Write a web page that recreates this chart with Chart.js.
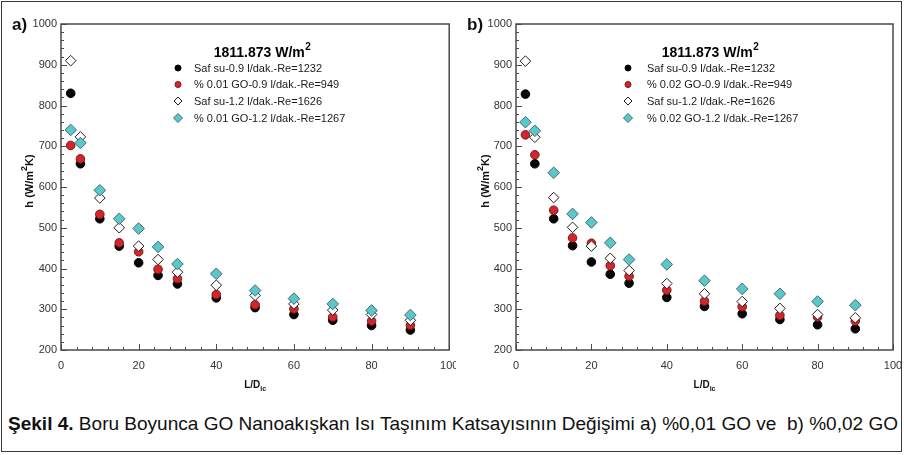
<!DOCTYPE html>
<html><head><meta charset="utf-8">
<script src="https://cdn.jsdelivr.net/npm/chart.js@4.4.1/dist/chart.umd.min.js"></script>
<style>
html,body{margin:0;padding:0;background:#fff;}
body{width:904px;height:455px;position:relative;overflow:hidden;font-family:'Liberation Sans',Arial,sans-serif;}
#frame{position:absolute;left:1px;top:1px;width:901px;height:451px;border:1.5px solid #3a3a3a;box-sizing:border-box;}
canvas{position:absolute;top:0;}
#cA{left:0}
#cB{left:456px}
#caption{position:absolute;left:8px;top:414px;font-size:18.5px;line-height:20px;white-space:nowrap;transform-origin:0 0;color:#111;}
#caption b{font-weight:bold;}
</style></head>
<body>
<div id="frame"></div>
<canvas id="cA" width="456" height="400"></canvas>
<canvas id="cB" width="448" height="400"></canvas>
<div id="caption"><b>Şekil 4.</b> Boru Boyunca GO Nanoakışkan Isı Taşınım Katsayısının Değişimi a) %0,01 GO ve&nbsp; b) %0,02 GO</div>
<script>
// ---- data ----
const xPositions = [2.5, 5, 10, 15, 20, 25, 30, 40, 50, 60, 70, 80, 90];

const a_safSu09 = [830, 657, 522, 455, 414, 383, 362, 328, 304, 287, 273, 260, 249];
const a_go09    = [702, 669, 533, 463, 441, 398, 375, 336, 311, 301, 281, 271, 261];
const a_safSu12 = [910, 723, 573, 500, 455, 422, 391, 359, 334, 313, 298, 287, 273];
const a_go12    = [740, 708, 592, 522, 498, 453, 411, 387, 346, 326, 313, 297, 286];

const b_safSu09 = [828, 657, 522, 456, 416, 386, 364, 329, 307, 289, 275, 262, 252];
const b_go09    = [728, 679, 543, 475, 462, 407, 381, 347, 320, 306, 285, 281, 271];
const b_safSu12 = [909, 722, 574, 501, 455, 425, 395, 363, 338, 319, 302, 287, 279];
const b_go12    = [759, 738, 635, 534, 513, 463, 422, 410, 370, 350, 338, 319, 310];

const labelsA = ['Saf su-0.9 l/dak.-Re=1232', '% 0.01 GO-0.9 l/dak.-Re=949', 'Saf su-1.2 l/dak.-Re=1626', '% 0.01 GO-1.2 l/dak.-Re=1267'];
const labelsB = ['Saf su-0.9 l/dak.-Re=1232', '% 0.02 GO-0.9 l/dak.-Re=949', 'Saf su-1.2 l/dak.-Re=1626', '% 0.02 GO-1.2 l/dak.-Re=1267'];
const legendTitle = '1811.873 W/m';
const legendTitleSup = '2';
const yTitle = ['h (W/m', '2', 'K)'];
const xTitle = ['L/D', 'ic'];
const panelLetters = ['a)', 'b)'];

const yMin = 200, yMax = 1000, yStep = 100, yMinor = 20;
const xMin = 0, xMax = 100, xStep = 20, xMinor = 4;

// ---- styles ----
const styles = [
  {shape: 'circle', r: 4.3, lr: 3, bg: '#050505', bd: '#000000', order: 4},
  {shape: 'circle', r: 4.3, lr: 3, bg: '#d3252b', bd: '#7d1518', order: 3},
  {shape: 'diamond', r: 5.3, lr: 4, bg: '#ffffff', bd: '#1e1e1e', order: 2},
  {shape: 'diamond', r: 5.8, lr: 4.5, bg: '#5dc6c9', bd: '#3d6e74', order: 1},
];

function drawMarker(ctx, st, x, y, r) {
  ctx.beginPath();
  if (st.shape === 'circle') {
    ctx.arc(x, y, r, 0, Math.PI * 2);
  } else {
    ctx.moveTo(x, y - r); ctx.lineTo(x + r, y); ctx.lineTo(x, y + r); ctx.lineTo(x - r, y); ctx.closePath();
  }
  ctx.fillStyle = st.bg; ctx.fill();
  ctx.lineWidth = 1; ctx.strokeStyle = st.bd; ctx.stroke();
}

const FONT = "'Liberation Sans', Arial, sans-serif";

const decorPlugin = {
  id: 'decor',
  afterDraw(chart, args, o) {
    const {ctx, chartArea: ca, scales: {x, y}} = chart;
    ctx.save();
    // frame
    ctx.strokeStyle = '#4a4a4a'; ctx.lineWidth = 1.5;
    ctx.strokeRect(ca.left, ca.top, ca.right - ca.left, ca.bottom - ca.top);
    // inner ticks
    ctx.lineWidth = 1; ctx.strokeStyle = '#4a4a4a';
    ctx.beginPath();
    for (let v = yMin; v <= yMax; v += yMinor) {
      const p = Math.round(y.getPixelForValue(v)) + 0.5;
      const len = (v % yStep === 0) ? 6 : 3;
      ctx.moveTo(ca.left, p); ctx.lineTo(ca.left + len, p);
    }
    for (let v = xMin; v <= xMax; v += xMinor) {
      const p = Math.round(x.getPixelForValue(v)) + 0.5;
      const len = (v % xStep === 0) ? 6 : 3;
      ctx.moveTo(p, ca.bottom); ctx.lineTo(p, ca.bottom - len);
    }
    ctx.stroke();
    // panel letter
    ctx.fillStyle = '#111';
    ctx.font = 'bold 17px ' + FONT;
    ctx.textBaseline = 'alphabetic'; ctx.textAlign = 'left';
    ctx.fillText(o.letter, o.letterX, 30);
    // y title
    ctx.save();
    ctx.translate(o.yTitleX, 181);
    ctx.rotate(-Math.PI / 2);
    const fBig = 'bold 11px ' + FONT, fSup = 'bold 9px ' + FONT;
    ctx.font = fBig; const w1 = ctx.measureText(yTitle[0]).width; const w3 = ctx.measureText(yTitle[2]).width;
    ctx.font = fSup; const w2 = ctx.measureText(yTitle[1]).width;
    let sx = -(w1 + w2 + w3) / 2;
    ctx.font = fBig; ctx.fillText(yTitle[0], sx, 4); sx += w1;
    ctx.font = fSup; ctx.fillText(yTitle[1], sx, -2); sx += w2;
    ctx.font = fBig; ctx.fillText(yTitle[2], sx, 4);
    ctx.restore();
    // x title
    const cx = (ca.left + ca.right) / 2;
    ctx.font = 'bold 10px ' + FONT; const wx1 = ctx.measureText(xTitle[0]).width;
    ctx.font = 'bold 7px ' + FONT; const wx2 = ctx.measureText(xTitle[1]).width;
    let xs = cx - (wx1 + wx2) / 2;
    ctx.font = 'bold 10px ' + FONT; ctx.fillText(xTitle[0], xs, 388);
    ctx.font = 'bold 7px ' + FONT; ctx.fillText(xTitle[1], xs + wx1, 391);
    // legend title
    ctx.font = 'bold 14px ' + FONT; const wt = ctx.measureText(legendTitle).width;
    ctx.font = 'bold 10px ' + FONT; const ws = ctx.measureText(legendTitleSup).width;
    const tx0 = o.legTitleX - (wt + ws) / 2;
    ctx.fillStyle = '#000';
    ctx.font = 'bold 14px ' + FONT; ctx.fillText(legendTitle, tx0, 57);
    ctx.font = 'bold 10px ' + FONT; ctx.fillText(legendTitleSup, tx0 + wt + 0.5, 50);
    // legend items
    const rows = [68, 84.5, 101, 118];
    ctx.font = '11px ' + FONT; ctx.textBaseline = 'middle';
    o.labels.forEach((lab, i) => {
      drawMarker(ctx, styles[i], o.legMarkX, rows[i], styles[i].lr);
      ctx.fillStyle = '#1a1a1a';
      ctx.fillText(lab, o.legTextX, rows[i] + 0.5);
    });
    ctx.restore();
  }
};

function makeDatasets(series, labels) {
  return series.map((vals, i) => ({
    label: labels[i],
    data: vals.map((v, k) => ({x: xPositions[k], y: v})),
    pointStyle: styles[i].shape === 'circle' ? 'circle' : 'rectRot',
    pointRadius: styles[i].r,
    pointBackgroundColor: styles[i].bg,
    pointBorderColor: styles[i].bd,
    pointBorderWidth: 1,
    showLine: false,
    order: styles[i].order
  }));
}

function makeChart(id, series, labels, yAxisWidth, padRight, decor) {
  return new Chart(document.getElementById(id), {
    type: 'scatter',
    data: {datasets: makeDatasets(series, labels)},
    plugins: [decorPlugin],
    options: {
      responsive: false, animation: false, devicePixelRatio: 1,
      layout: {padding: {left: 0, top: 24, right: padRight, bottom: 0}},
      plugins: {legend: {display: false}, tooltip: {enabled: false}, decor: decor},
      scales: {
        x: {
          type: 'linear', min: xMin, max: xMax,
          grid: {display: false, drawTicks: false}, border: {display: false},
          ticks: {stepSize: xStep, padding: 9, color: '#333', font: {family: FONT, size: 11}, callback: v => String(v)},
          afterFit(s) { s.height = 50; s.paddingLeft = 0; s.paddingRight = 0; }
        },
        y: {
          type: 'linear', min: yMin, max: yMax,
          grid: {display: false, drawTicks: false}, border: {display: false},
          ticks: {stepSize: yStep, padding: 4, color: '#333', font: {family: FONT, size: 11}, callback: v => String(v)},
          afterFit(s) { s.width = yAxisWidth; s.paddingTop = 0; s.paddingBottom = 0; }
        }
      }
    }
  });
}

makeChart('cA', [a_safSu09, a_go09, a_safSu12, a_go12], labelsA, 61, 4,
  {letter: panelLetters[0], letterX: 12, yTitleX: 29, legTitleX: 262, legMarkX: 178, legTextX: 194, labels: labelsA});
makeChart('cB', [b_safSu09, b_go09, b_safSu12, b_go12], labelsB, 60, 11,
  {letter: panelLetters[1], letterX: 11, yTitleX: 29, legTitleX: 254, legMarkX: 172, legTextX: 191, labels: labelsB});

// fit caption width
const cap = document.getElementById('caption');
const w = cap.getBoundingClientRect().width;
cap.style.transform = 'scaleX(' + (890 / w) + ')';
</script>
</body></html>
